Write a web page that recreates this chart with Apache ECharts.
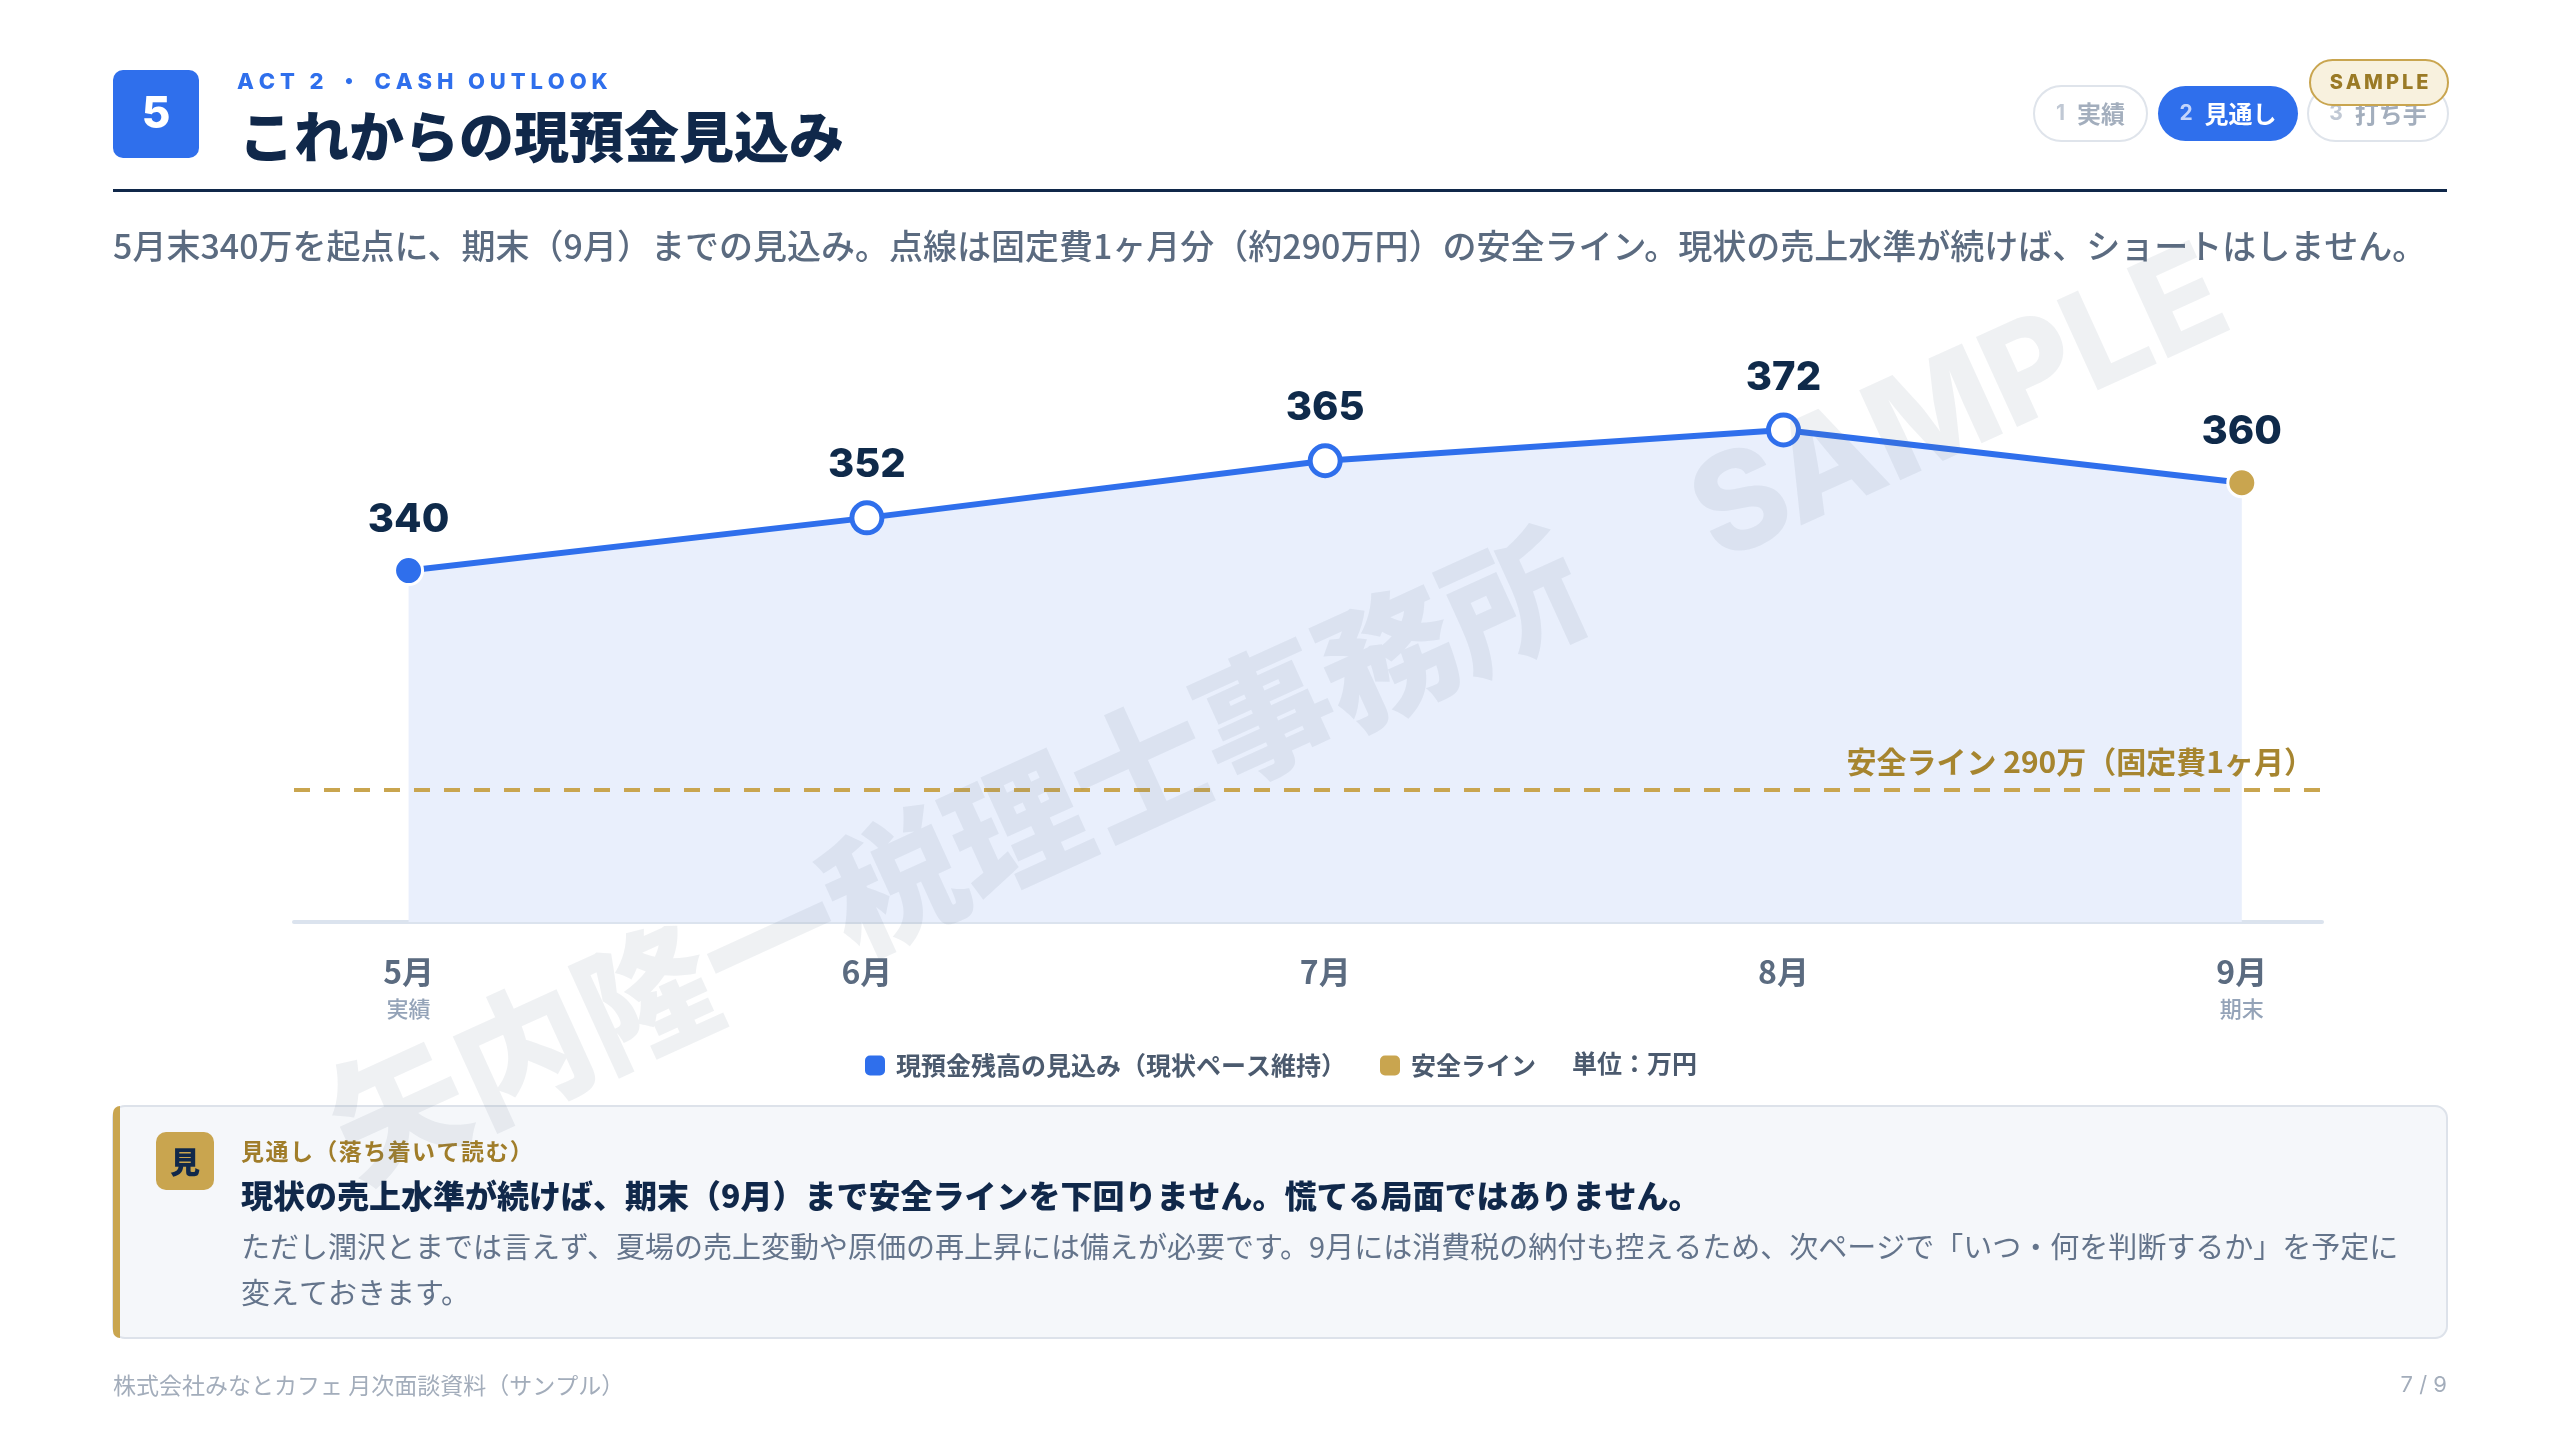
<!DOCTYPE html>
<html lang="ja">
<head>
<meta charset="utf-8">
<title>これからの現預金見込み</title>
<script src="https://cdn.jsdelivr.net/npm/echarts@6/dist/echarts.min.js"></script>
<style>
  html, body { margin: 0; padding: 0; background: #fff; }
  #chart { width: 2560px; height: 1440px; }
</style>
</head>
<body>
<div id="chart"></div>
<script>
// データ（単位：万円）
var months = ['5月', '6月', '7月', '8月', '9月'];
var subLabels = ['実績', '', '', '', '期末'];
var balance = [340, 352, 365, 372, 360];
var safetyLine = 290;

var mainName = '現預金残高の見込み（現状ペース維持）';
var safetyName = '安全ライン';

var JP = '"Noto Sans CJK JP", "Noto Sans", sans-serif';
var NUM = 'Inter, "Noto Sans CJK JP", sans-serif';
var BLUE = '#2f6fec';
var GOLD = '#c9a54f';
var NAVY = '#10284a';

// 字間を空ける
function spaced(s, gap) { return s.split('').join(gap || '\u2009'); }

var chart = echarts.init(document.getElementById('chart'));

var points = balance.map(function (v, i) {
  var last = i === balance.length - 1;
  var style, size;
  if (i === 0) {
    style = { color: BLUE, borderColor: '#fff', borderWidth: 3 };
    size = 28;
  } else if (last) {
    style = { color: GOLD, borderColor: '#fff', borderWidth: 3 };
    size = 28;
  } else {
    style = { color: '#fff', borderColor: BLUE, borderWidth: 5 };
    size = 30;
  }
  return { value: [i, v], symbolSize: size, itemStyle: style };
});

function pill(x, w, num, txt, active) {
  return [
    {
      type: 'rect',
      shape: { x: x, y: 86, width: w, height: 55, r: 27.5 },
      style: active ? { fill: BLUE } : { fill: '#fff', stroke: '#dfe4eb', lineWidth: 2 }
    },
    {
      type: 'text', x: x + w / 2, y: 114,
      style: {
        text: '{n|' + num + '}{g|}{t|' + txt + '}',
        textAlign: 'center', textVerticalAlign: 'middle',
        rich: {
          n: { fontFamily: NUM, fontWeight: 700, fontSize: 21, fill: active ? '#c3d4fb' : '#c0c8d4' },
          g: { width: 12 },
          t: { fontFamily: JP, fontWeight: 700, fontSize: 24, fill: active ? '#fff' : '#a3aebd' }
        }
      }
    }
  ];
}

var graphics = [
  // 見出し
  { type: 'rect', shape: { x: 113, y: 70, width: 86, height: 88, r: 10 }, style: { fill: BLUE } },
  { type: 'text', x: 156, y: 115, style: { text: '5', fill: '#fff', font: '800 44px Inter', textAlign: 'center', textVerticalAlign: 'middle' } },
  { type: 'text', x: 237, y: 82, style: { text: spaced('ACT 2 ・ CASH OUTLOOK', '\u2009\u200A'), fill: BLUE, fontFamily: NUM, fontWeight: 800, fontSize: 22, textVerticalAlign: 'middle' } },
  { type: 'text', x: 239, y: 136, style: { text: 'これからの現預金見込み', fill: NAVY, fontFamily: JP, fontWeight: 900, fontSize: 55, textVerticalAlign: 'middle' } },
  { type: 'rect', shape: { x: 113, y: 189, width: 2334, height: 3 }, style: { fill: NAVY } }
]
  .concat(pill(2034, 113, '1', '実績', false))
  .concat(pill(2158, 140, '2', '見通し', true))
  .concat(pill(2308, 140, '3', '打ち手', false))
  .concat([
    { type: 'rect', shape: { x: 2310, y: 60, width: 138, height: 45, r: 22.5 }, style: { fill: '#f8f1de', stroke: GOLD, lineWidth: 2 } },
    { type: 'text', x: 2379, y: 83, style: { text: spaced('SAMPLE'), fill: '#9a7a26', fontFamily: NUM, fontWeight: 800, fontSize: 20, textAlign: 'center', textVerticalAlign: 'middle' } },
    // リード文
    { type: 'text', x: 113, y: 246, style: { text: '5月末340万を起点に、期末（9月）までの見込み。点線は固定費1ヶ月分（約290万円）の安全ライン。現状の売上水準が続けば、ショートはしません。', fill: '#5b6b80', fontFamily: JP, fontWeight: 500, fontSize: 34, textVerticalAlign: 'middle' } },
    // 凡例の単位
    { type: 'text', x: 1572, y: 1063, style: { text: '単位：万円', fill: '#4b5a6e', fontFamily: JP, fontWeight: 600, fontSize: 25, textVerticalAlign: 'middle' } },
    // コメント枠
    { type: 'rect', shape: { x: 113, y: 1106, width: 2334, height: 232, r: 12 }, style: { fill: '#f5f7fa', stroke: '#dde2ea', lineWidth: 2 } },
    { type: 'rect', shape: { x: 113, y: 1106, width: 7, height: 232, r: [7, 0, 0, 7] }, style: { fill: GOLD } },
    { type: 'rect', shape: { x: 156, y: 1132, width: 58, height: 58, r: 10 }, style: { fill: GOLD } },
    { type: 'text', x: 185, y: 1162, style: { text: '見', fill: NAVY, fontFamily: JP, fontWeight: 900, fontSize: 30, textAlign: 'center', textVerticalAlign: 'middle' } },
    { type: 'text', x: 241, y: 1151, style: { text: spaced('見通し（落ち着いて読む）', '\u200A'), fill: '#a07d2a', fontFamily: JP, fontWeight: 700, fontSize: 23, textVerticalAlign: 'middle' } },
    { type: 'text', x: 241, y: 1196, style: { text: '現状の売上水準が続けば、期末（9月）まで安全ラインを下回りません。慌てる局面ではありません。', fill: NAVY, fontFamily: JP, fontWeight: 900, fontSize: 32, textVerticalAlign: 'middle' } },
    { type: 'text', x: 241, y: 1247, style: { text: 'ただし潤沢とまでは言えず、夏場の売上変動や原価の再上昇には備えが必要です。9月には消費税の納付も控えるため、次ページで「いつ・何を判断するか」を予定に', fill: '#64748b', fontFamily: JP, fontWeight: 400, fontSize: 29, textVerticalAlign: 'middle' } },
    { type: 'text', x: 241, y: 1293, style: { text: '変えておきます。', fill: '#64748b', fontFamily: JP, fontWeight: 400, fontSize: 29, textVerticalAlign: 'middle' } },
    // フッター
    { type: 'text', x: 113, y: 1385, style: { text: '株式会社みなとカフェ 月次面談資料（サンプル）', fill: '#a3adbb', fontFamily: JP, fontSize: 23, textVerticalAlign: 'middle' } },
    { type: 'text', x: 2447, y: 1385, style: { text: '7 / 9', fill: '#a3adbb', fontFamily: NUM, fontSize: 22, textAlign: 'right', textVerticalAlign: 'middle' } },
    // 透かし
    {
      type: 'text', x: 1280, y: 718, rotation: 24.5 * Math.PI / 180, z: 100, silent: true,
      style: { text: '矢内隆一税理士事務所\u3000SAMPLE', fill: 'rgba(100,116,139,0.1)', fontFamily: NUM, fontWeight: 800, fontSize: 136, textAlign: 'center', textVerticalAlign: 'middle' }
    }
  ]);

var option = {
  backgroundColor: '#fff',
  animation: false,
  graphic: graphics,
  grid: { left: 294, right: 238, top: 307, bottom: 518 },
  legend: {
    left: 860, top: 1048,
    selectedMode: false,
    icon: 'roundRect',
    itemWidth: 20, itemHeight: 20, itemGap: 34,
    textStyle: { fontFamily: JP, fontWeight: 600, fontSize: 25, color: '#4b5a6e', padding: [0, 0, 0, 6] },
    data: [mainName, safetyName]
  },
  xAxis: {
    type: 'value',
    min: -0.25,
    max: 4.175,
    axisLine: { show: true, onZero: false, lineStyle: { color: '#dbe3ee', width: 4 } },
    axisTick: { show: false },
    splitLine: { show: false },
    axisLabel: {
      customValues: [0, 1, 2, 3, 4],
      margin: 28,
      formatter: function (v) {
        var s = '{m|' + months[v] + '}';
        if (subLabels[v]) s += '\n{s|' + subLabels[v] + '}';
        return s;
      },
      rich: {
        m: { fontFamily: JP, fontWeight: 700, fontSize: 32, color: '#5b6b80', lineHeight: 44 },
        s: { fontFamily: JP, fontWeight: 500, fontSize: 22, color: '#94a3b8', lineHeight: 30 }
      }
    }
  },
  yAxis: {
    type: 'value', min: 260, max: 400, show: false
  },
  series: [
    {
      name: mainName,
      type: 'line',
      data: points,
      symbol: 'circle',
      showSymbol: true,
      color: BLUE,
      lineStyle: { color: BLUE, width: 6 },
      areaStyle: { color: '#e9effc', opacity: 1, origin: 'start' },
      emphasis: { disabled: true },
      label: {
        show: true, position: 'top', distance: 15,
        formatter: function (p) { return p.value[1]; },
        fontFamily: NUM, fontWeight: 800, fontSize: 40, color: '#0f2a4a', lineHeight: 40
      },
      markLine: {
        silent: true,
        symbol: 'none',
        data: [{ yAxis: safetyLine }],
        lineStyle: { color: GOLD, width: 4, type: [16, 14] },
        label: {
          position: 'insideEndTop',
          distance: [8, 14],
          formatter: '安全ライン ' + safetyLine + '万（固定費1ヶ月）',
          fontFamily: JP, fontWeight: 700, fontSize: 30, color: '#a6852f'
        }
      },
      z: 3
    },
    {
      name: safetyName,
      type: 'line',
      data: [],
      color: GOLD,
      itemStyle: { color: GOLD }
    }
  ]
};

chart.setOption(option);
</script>
</body>
</html>
